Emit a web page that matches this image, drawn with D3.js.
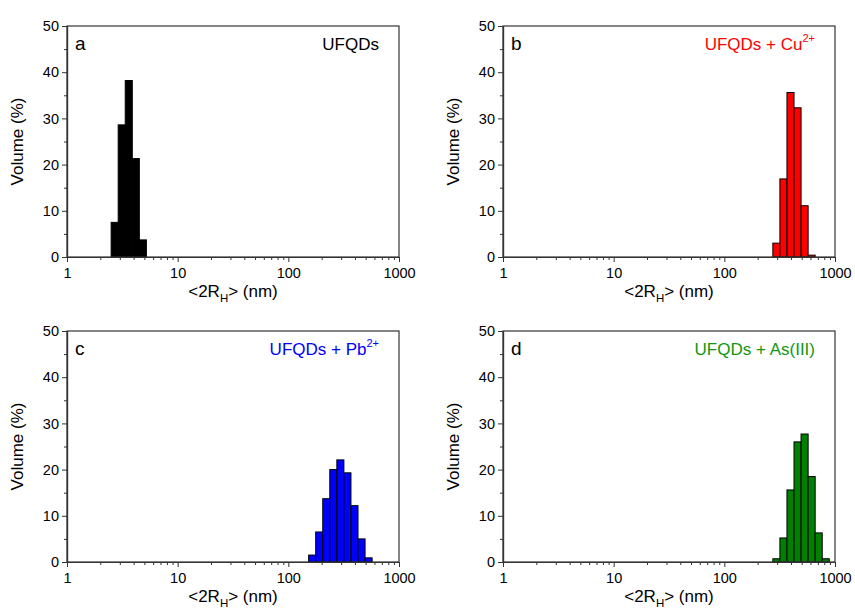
<!DOCTYPE html>
<html lang="en">
<head>
<meta charset="UTF-8">
<title>DLS size distributions</title>
<script src="https://cdn.jsdelivr.net/npm/d3@7/dist/d3.min.js"></script>
<style>
    body { margin: 0; background: #fff; }
    svg { font-family: "Liberation Sans", Arial, sans-serif; }
</style>
</head>
<body>
<script>
// hydrodynamic diameter bins (nm) and volume (%)
const sizesA = [2.696, 3.122, 3.615, 4.187, 4.849];
const volA = [7.5, 28.6, 38.2, 21.3, 3.7];
const sizesB = [295.3, 342.0, 396.1, 458.7, 531.2, 615.1];
const volB = [3.0, 16.9, 35.6, 32.3, 11.1, 0.4];
const sizesC = [164.2, 190.1, 220.2, 255.0, 295.3, 342.0, 396.1, 458.7, 531.2];
const volC = [1.5, 6.5, 13.7, 20.0, 22.1, 19.3, 12.2, 5.0, 0.9];
const sizesD = [295.3, 342.0, 396.1, 458.7, 531.2, 615.1, 712.4, 825.0];
const volD = [0.7, 5.2, 15.6, 26.0, 27.7, 18.5, 6.3, 0.7];

const xTicks = [1, 10, 100, 1000];
const yTicks = [0, 10, 20, 30, 40, 50];

const svg = d3.select("body").append("svg")
    .attr("width", 855)
    .attr("height", 610);

const panels = [
    { letter: "a", sizes: sizesA, vol: volA, fill: "#000000", txt: "#000000", label: "UFQDs", sup: "", x0: 67, x1: 399, y0: 26, y1: 257 },
    { letter: "b", sizes: sizesB, vol: volB, fill: "#ff0000", txt: "#ff0000", label: "UFQDs + Cu", sup: "2+", x0: 503, x1: 835, y0: 26, y1: 257 },
    { letter: "c", sizes: sizesC, vol: volC, fill: "#0000ff", txt: "#0000ff", label: "UFQDs + Pb", sup: "2+", x0: 67, x1: 399, y0: 331, y1: 562 },
    { letter: "d", sizes: sizesD, vol: volD, fill: "#008000", txt: "#129612", label: "UFQDs + As(III)", sup: "", x0: 503, x1: 835, y0: 331, y1: 562 }
];

// minor ticks for log axis 2..9 in each decade
const minorX = [];
[1, 10, 100].forEach(d => { for (let k = 2; k <= 9; k++) minorX.push(d * k); });
const minorY = [5, 15, 25, 35, 45];

panels.forEach(p => {
    const x = d3.scaleLog().domain([1, 1000]).range([p.x0, p.x1]);
    const y = d3.scaleLinear().domain([0, 50]).range([p.y1, p.y0]);
    const g = svg.append("g");

    // bars: each bin spans half a bin step on either side of its centre (log scale)
    const step = p.sizes[1] / p.sizes[0];
    const half = Math.sqrt(step);
    g.selectAll("rect.bar")
        .data(p.sizes.map((s, i) => ({ s: s, v: p.vol[i] })))
        .join("rect")
        .attr("class", "bar")
        .attr("x", d => x(d.s / half))
        .attr("width", d => x(d.s * half) - x(d.s / half))
        .attr("y", d => y(d.v))
        .attr("height", d => y(0) - y(d.v))
        .attr("fill", p.fill)
        .attr("stroke", "#000")
        .attr("stroke-width", 1);

    // frame
    g.append("rect")
        .attr("x", p.x0).attr("y", p.y0)
        .attr("width", p.x1 - p.x0).attr("height", p.y1 - p.y0)
        .attr("fill", "none")
        .attr("stroke", "#333")
        .attr("stroke-width", 1.2);

    // x axis
    const xa = g.append("g")
        .attr("transform", `translate(0,${p.y1})`)
        .call(d3.axisBottom(x).tickValues(xTicks).tickFormat(d3.format("d")).tickSize(5).tickSizeOuter(0));
    g.append("g")
        .attr("transform", `translate(0,${p.y1})`)
        .call(d3.axisBottom(x).tickValues(minorX).tickFormat("").tickSize(3).tickSizeOuter(0));

    // y axis
    g.append("g")
        .attr("transform", `translate(${p.x0},0)`)
        .call(d3.axisLeft(y).tickValues(yTicks).tickSize(5).tickSizeOuter(0));
    g.append("g")
        .attr("transform", `translate(${p.x0},0)`)
        .call(d3.axisLeft(y).tickValues(minorY).tickFormat("").tickSize(3).tickSizeOuter(0));

    g.selectAll(".domain").attr("stroke", "#333").attr("stroke-width", 1.2);
    g.selectAll(".tick line").attr("stroke", "#333");
    g.selectAll(".tick text")
        .attr("font-family", "'Liberation Sans', Arial, sans-serif")
        .attr("font-size", 14.5)
        .attr("fill", "#000");
    xa.selectAll(".tick text").attr("dy", "1em").attr("y", 6);

    // axis titles
    const xt = g.append("text")
        .attr("x", (p.x0 + p.x1) / 2)
        .attr("y", p.y1 + 40)
        .attr("text-anchor", "middle")
        .attr("font-size", 17);
    xt.append("tspan").text("<2R");
    xt.append("tspan").attr("dy", 5).attr("font-size", 11.5).text("H");
    xt.append("tspan").attr("dy", -5).text("> (nm)");

    g.append("text")
        .attr("transform", `translate(${p.x0 - 44},${(p.y0 + p.y1) / 2}) rotate(-90)`)
        .attr("text-anchor", "middle")
        .attr("font-size", 17)
        .text("Volume (%)");

    // panel letter and label
    g.append("text")
        .attr("x", p.x0 + 8)
        .attr("y", p.y0 + 24)
        .attr("font-size", 19)
        .text(p.letter);

    const lt = g.append("text")
        .attr("x", p.x1 - 20)
        .attr("y", p.y0 + 24)
        .attr("text-anchor", "end")
        .attr("font-size", 17)
        .attr("fill", p.txt);
    lt.append("tspan").text(p.label);
    if (p.sup) {
        lt.append("tspan").attr("dy", -8).attr("font-size", 11).text(p.sup);
    }
});
</script>
</body>
</html>
